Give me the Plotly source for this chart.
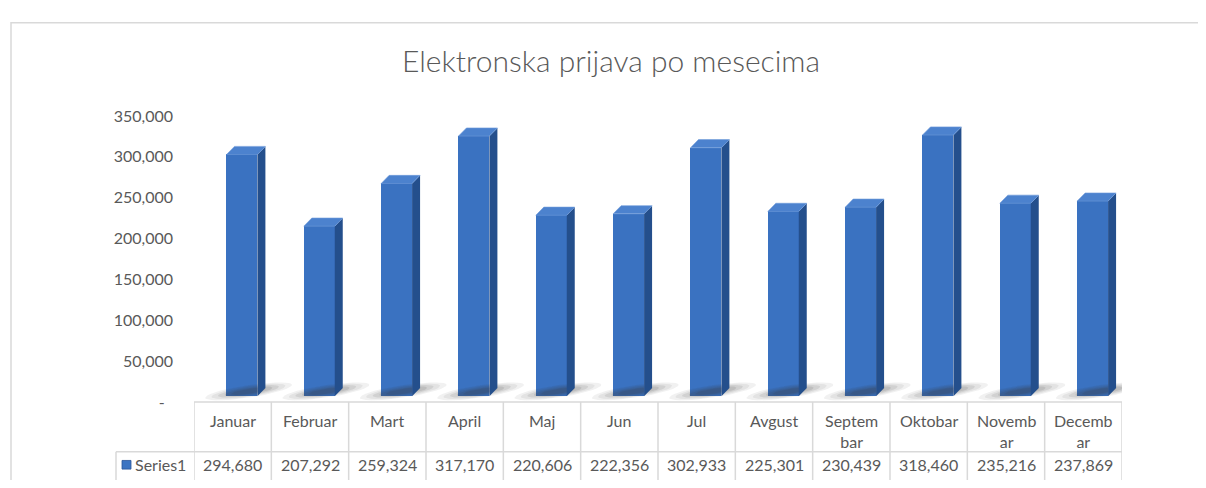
import math
import plotly.graph_objects as go

# ---------------- data ----------------
months = ["Januar", "Februar", "Mart", "April", "Maj", "Jun", "Jul", "Avgust",
          "Septembar", "Oktobar", "Novembar", "Decembar"]
month_labels = ["Januar", "Februar", "Mart", "April", "Maj", "Jun", "Jul", "Avgust",
                "Septem<br>bar", "Oktobar", "Novemb<br>ar", "Decemb<br>ar"]
values = [294680, 207292, 259324, 317170, 220606, 222356, 302933, 225301,
          230439, 318460, 235216, 237869]
series_name = "Series1"
title_text = "Elektronska prijava po mesecima"
y_tickvals = [0, 50000, 100000, 150000, 200000, 250000, 300000, 350000]
y_ticktext = ["-\u00a0\u00a0", "50,000", "100,000", "150,000", "200,000",
              "250,000", "300,000", "350,000"]

# ---------------- geometry helpers ----------------
OFF = 8                              # default page body margin
W, H = 1206 - 2 * OFF, 488 - 2 * OFF
def px(x): return (x - OFF) / W
def py(y): return 1 - (y - OFF) / H

X_LEFT, X_RIGHT = 194, 1122          # table / category span (reference pixels)
n = len(months)
unit_px = (X_RIGHT - X_LEFT) / n     # pixels per category
YMAX = 350000
ypp = YMAX / 299.0                   # value units per pixel

bar_w = 0.40
bar_off = -0.08                      # left edge relative to category centre
dx = 8 / unit_px                     # 3D depth (x)
dy = 8.5 * ypp                       # 3D depth (y)

FONT = "Lato"
TXT = "#595959"
GRID = "#D9D9D9"
FRONT = "#3A72C1"
SIDE = "#244F8C"
TOP = "#4C82CE"

fig = go.Figure()

# invisible anchor trace for the tick axis
fig.add_trace(go.Scatter(x=[0], y=[0], xaxis="x", yaxis="y2", mode="markers",
                         marker=dict(opacity=0), hoverinfo="skip", showlegend=False))

# soft floor shadows: stacked tilted ellipses under each bar
theta = math.atan2(13, 83)
for scale, alpha in [(1.0, 0.07), (0.85, 0.08), (0.7, 0.10), (0.55, 0.12), (0.4, 0.14)]:
    sx, sy = [], []
    a, b = 44 * scale, 6.5 * scale
    for i, v in enumerate(values):
        x0 = i + bar_off
        cx, cy = 22.0, 5.0           # centre offset in pixels from bar foot
        for k in range(37):
            t = 2 * math.pi * k / 36
            u, w = a * math.cos(t), b * math.sin(t)
            ox = cx + u * math.cos(theta) - w * math.sin(theta)
            oy = cy + u * math.sin(theta) + w * math.cos(theta)
            sx.append(x0 + ox / unit_px)
            sy.append(oy * ypp)
        sx.append(None)
        sy.append(None)
    fig.add_trace(go.Scatter(x=sx, y=sy, mode="lines", fill="toself",
                             line=dict(width=0), fillcolor=f"rgba(60,60,60,{alpha})",
                             hoverinfo="skip", showlegend=False))

# front faces
fig.add_trace(go.Bar(x=list(range(n)), y=values, width=bar_w, offset=bar_off,
                     marker=dict(color=FRONT, line=dict(width=0)),
                     hoverinfo="skip", showlegend=False, name=series_name))

# side faces
sx, sy = [], []
for i, v in enumerate(values):
    x1 = i + bar_off + bar_w
    sx += [x1, x1, x1 + dx, x1 + dx, x1, None]
    sy += [0, v, v + dy, dy, 0, None]
fig.add_trace(go.Scatter(x=sx, y=sy, mode="lines", fill="toself",
                         line=dict(width=0), fillcolor=SIDE,
                         hoverinfo="skip", showlegend=False))

# top faces
tx, ty = [], []
for i, v in enumerate(values):
    x0 = i + bar_off
    x1 = x0 + bar_w
    tx += [x0, x1, x1 + dx, x0 + dx, x0, None]
    ty += [v, v, v + dy, v + dy, v, None]
fig.add_trace(go.Scatter(x=tx, y=ty, mode="lines", fill="toself",
                         line=dict(width=0.6, color="#6E9BDA"), fillcolor=TOP,
                         hoverinfo="skip", showlegend=False))

# ---------------- table (grid lines + text) ----------------
shapes = []
# chart border
shapes.append(dict(type="rect", xref="paper", yref="paper",
                   x0=px(11), y0=py(530), x1=px(1230), y1=py(13),
                   line=dict(color=GRID, width=1.5), fillcolor="rgba(0,0,0,0)"))
T_TOP, T_MID, T_BOT = 408, 460, 520
shapes.append(dict(type="line", xref="paper", yref="paper",
                   x0=px(X_LEFT), x1=px(X_RIGHT), y0=py(T_TOP), y1=py(T_TOP),
                   line=dict(color=GRID, width=1.5)))
shapes.append(dict(type="line", xref="paper", yref="paper",
                   x0=px(116), x1=px(X_RIGHT), y0=py(T_MID), y1=py(T_MID),
                   line=dict(color=GRID, width=1.5)))
shapes.append(dict(type="line", xref="paper", yref="paper",
                   x0=px(116), x1=px(116), y0=py(T_MID), y1=py(T_BOT),
                   line=dict(color=GRID, width=1.5)))
for k in range(n + 1):
    shapes.append(dict(type="line", xref="x", yref="paper",
                       x0=k - 0.5, x1=k - 0.5, y0=py(T_TOP), y1=py(T_BOT),
                       line=dict(color=GRID, width=1.5)))
# legend key
shapes.append(dict(type="rect", xref="paper", yref="paper",
                   x0=px(122), x1=px(131), y0=py(478), y1=py(469),
                   line=dict(color="#2A5699", width=0.8), fillcolor="#3C74C2"))

annotations = []
annotations.append(dict(text=title_text, xref="paper", yref="paper",
                        x=px(611), y=py(52), xanchor="center", yanchor="middle",
                        showarrow=False,
                        font=dict(family=FONT, size=30, color=TXT, weight=300)))
for i, lab in enumerate(month_labels):
    annotations.append(dict(text=lab, xref="x", yref="paper", x=i, y=py(415),
                            xanchor="center", yanchor="top", showarrow=False,
                            font=dict(family=FONT, size=16, color=TXT)))
    annotations.append(dict(text=f"{values[i]:,}", xref="x", yref="paper", x=i,
                            y=py(473), xanchor="center", yanchor="middle",
                            showarrow=False, font=dict(family=FONT, size=16, color=TXT)))
annotations.append(dict(text=series_name, xref="paper", yref="paper", x=px(133),
                        y=py(473), xanchor="left", yanchor="middle", showarrow=False,
                        font=dict(family=FONT, size=16, color=TXT)))

# bars axis: zero at pixel 402 (front-face floor), extended below for shadows
bar_bottom_px = 414
y_lo = -(bar_bottom_px - 402) * ypp

fig.update_layout(
    width=W, height=H, autosize=False,
    margin=dict(l=0, r=0, t=0, b=0),
    paper_bgcolor="white", plot_bgcolor="rgba(0,0,0,0)",
    showlegend=False, bargap=0,
    xaxis=dict(domain=[px(X_LEFT), px(X_RIGHT)], range=[-0.5, n - 0.5],
               visible=False, fixedrange=True),
    yaxis=dict(domain=[py(bar_bottom_px), py(402 - 299)], range=[y_lo, YMAX],
               visible=False, fixedrange=True),
    yaxis2=dict(domain=[py(409), py(110)], range=[0, YMAX], anchor="x",
                tickvals=y_tickvals, ticktext=y_ticktext, showgrid=False,
                zeroline=False, showline=False, ticks="", ticklabelstandoff=20,
                tickfont=dict(family=FONT, size=16, color=TXT), fixedrange=True),
    shapes=shapes, annotations=annotations,
)

fig.write_html("out.html")
